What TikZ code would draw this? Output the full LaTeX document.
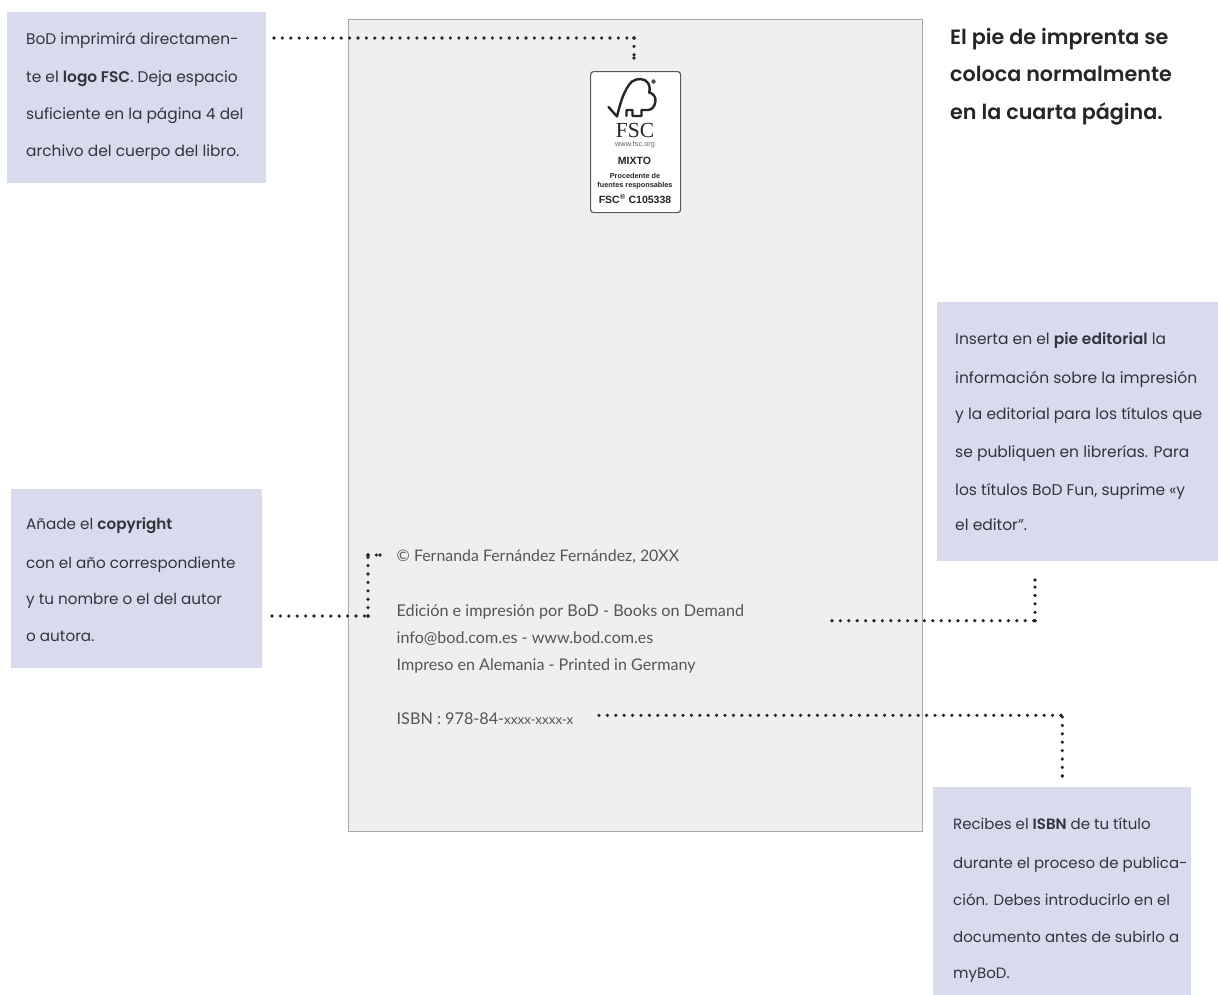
\documentclass[tikz,border=0pt]{standalone}
\usepackage{fontspec}
\setmainfont{Lato}
\newfontfamily\notefont[BoldFont={Poppins SemiBold}]{Poppins}
\newfontfamily\pagefont{Lato}
\newfontfamily\logofont{Liberation Sans}
\newfontfamily\fscfont{Liberation Serif}
\definecolor{notebg}{HTML}{D8DBEE}
\definecolor{pagebg}{HTML}{EFEFEF}
\definecolor{pageline}{HTML}{A8A8A8}
\definecolor{ink}{HTML}{33333B}
\definecolor{pageink}{HTML}{555555}
\tikzset{
  x=1pt,y=-1pt,
  notebox/.style={fill=notebg,draw=none,anchor=north west,inner sep=0pt},
  notetext/.style={anchor=base west,inner sep=0pt,text=ink,font=\notefont\fontsize{#1}{#1}\selectfont},
  headtext/.style={anchor=base west,inner sep=0pt,text=black!85,font=\notefont\bfseries\fontsize{20.7}{20.7}\selectfont},
  pagetext/.style={anchor=base west,inner sep=0pt,text=pageink,font=\pagefont\fontsize{#1}{#1}\selectfont},
  dots/.style={line width=3.6pt,line cap=round,dash pattern=on 0pt off 8.4pt,black!85},
  logoline/.style={line width=2.4pt,black!85,line join=round,line cap=round},
  logotext/.style={anchor=base,inner sep=0pt,text=black!85},
}
\begin{document}
\begin{tikzpicture}
\useasboundingbox (0,0) rectangle (1218,994);
% page
\node[fill=pagebg,draw=pageline,line width=1pt,anchor=north west,inner sep=0pt,minimum width=574pt,minimum height=812pt] (page) at (348,19) {};
% note boxes
\node[notebox,minimum width=259pt,minimum height=171pt] (n1) at (7,12) {};
\node[notebox,minimum width=251pt,minimum height=179pt] (n2) at (11,489) {};
\node[notebox,minimum width=281pt,minimum height=259pt] (n3) at (937,302) {};
\node[notebox,minimum width=258pt,minimum height=208pt] (n4) at (933,787) {};
% note texts
\node[notetext=15.4] at (26,44) {BoD imprimirá directamen-};
\node[notetext=15.4] at (26,82) {te el \textbf{logo FSC}. Deja espacio};
\node[notetext=15.4] at (26,119) {suficiente en la página 4 del};
\node[notetext=15.4] at (26,156) {archivo del cuerpo del libro.};
\node[notetext=15.2] at (26,529.5) {Añade el \textbf{copyright}};
\node[notetext=15.2] at (26,568) {con el año correspondiente};
\node[notetext=15.2] at (26,604) {y tu nombre o el del autor};
\node[notetext=15.2] at (26,641) {o autora.};
\node[notetext=15.5] at (955,344) {Inserta en el \textbf{pie editorial} la};
\node[notetext=15.5] at (955,383) {información sobre la impresión};
\node[notetext=15.5] at (955,419) {y la editorial para los títulos que};
\node[notetext=15.5] at (955,457) {se publiquen en librerías. Para};
\node[notetext=15.5] at (955,495) {los títulos BoD Fun, suprime «y};
\node[notetext=15.5] at (955,530) {el editor”.};
\node[notetext=15] at (953,829) {Recibes el \textbf{ISBN} de tu título};
\node[notetext=15] at (953,868) {durante el proceso de publica-};
\node[notetext=15] at (953,905) {ción. Debes introducirlo en el};
\node[notetext=15] at (953,942) {documento antes de subirlo a};
\node[notetext=15] at (953,978) {myBoD.};
% heading
\node[headtext] at (950,44) {El pie de imprenta se};
\node[headtext] at (950,81.7) {coloca normalmente};
\node[headtext] at (950,119.3) {en la cuarta página.};
% page text
\node[pagetext=15.9] (t1) at (396.5,561.5) {© Fernanda Fernández Fernández, 20XX};
\node[pagetext=16.2] (t2) at (396.5,616) {Edición e impresión por BoD - Books on Demand};
\node[pagetext=16.1] at (396.5,643) {info@bod.com.es - www.bod.com.es};
\node[pagetext=16.1] at (396.5,670) {Impreso en Alemania - Printed in Germany};
\node[pagetext=16.2] (t3) at (396.5,724) {ISBN : 978-84-{\fontsize{13.4}{13.4}\selectfont xxxx-xxxx-x}};
% logo
\node[draw=black!65,fill=white,line width=1.2pt,rounded corners=3pt,anchor=north west,inner sep=0pt,minimum width=90pt,minimum height=141pt] (logo) at (590,71) {};
\draw[logoline] (608.5,107) -- (617,116.5) .. controls (620,104) and (624,89) .. (632,81.5)
  .. controls (637,78) and (645,78) .. (648,83) .. controls (650,86) and (650,90) .. (649,92.5)
  .. controls (653,93) and (656,97) .. (655.5,101) .. controls (655,106) and (652,110) .. (648,110)
  -- (641.5,110) -- (641.5,116) -- (632.5,116) -- (632.5,110) -- (626.5,110) -- (626.5,116);
\fill[black!70] (653.5,81.5) circle (2.2pt);
\node[logotext,font=\fscfont\fontsize{21.5}{21.5}\selectfont] at (635,137) {FSC};
\node[logotext,font=\logofont\fontsize{7.4}{7.4}\selectfont,text=black!60] at (635,146) {www.fsc.org};
\node[logotext,font=\logofont\bfseries\fontsize{10.5}{10.5}\selectfont] at (634.5,164) {MIXTO};
\node[logotext,font=\logofont\bfseries\fontsize{7.3}{7.3}\selectfont] at (635,178) {Procedente de};
\node[logotext,font=\logofont\bfseries\fontsize{7.3}{7.3}\selectfont] at (635,187) {fuentes responsables};
\node[logotext,font=\logofont\bfseries\fontsize{10.5}{10.5}\selectfont] at (635,203) {FSC\textsuperscript{®} C105338};
% connector anchors
\coordinate (c1a) at (274,38);
\coordinate (c1b) at (634,38);
\coordinate (c1c) at (634,58);
\coordinate (c2a) at (272,616);
\coordinate (c2b) at (368,616);
\coordinate (c2c) at (368,555);
\coordinate (c2d) at (380,555);
\coordinate (c3a) at (832,620.7);
\coordinate (c3b) at (1035,620.7);
\coordinate (c3c) at (1035,580);
\coordinate (c4a) at (599,715.3);
\coordinate (c4b) at (1061,715.3);
\coordinate (c4bb) at (1062.3,717);
\coordinate (c4c) at (1062.3,776);
\draw[dots] (c1a) -- (c1b);
\draw[dots] (c1b) -- (c1c);
\draw[dots] (c2a) -- (c2b);
\draw[dots] (c2b) -- (c2c);
\draw[dots] (c2c) -- (c2d);
\draw[dots] (c3a) -- (c3b);
\draw[dots] (c3b) -- (c3c);
\draw[dots] (c4a) -- (c4b);
\draw[dots] (c4bb) -- (c4c);
\foreach \p in {c1b,c1c,c2b,c2c,c2d,c3b,c3c,c4b,c4c}
  \fill[black!85] (\p) circle (1.8pt);
\end{tikzpicture}
\end{document}
